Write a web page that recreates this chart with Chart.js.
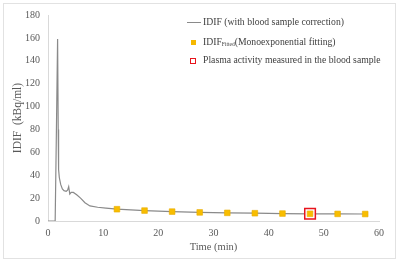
<!DOCTYPE html>
<html>
<head>
<meta charset="utf-8">
<script src="https://cdn.jsdelivr.net/npm/chart.js@4"></script>
<style>
  html, body { margin: 0; padding: 0; background: #fff; }
  #wrap { position: relative; width: 400px; height: 263px; }
  #frame { position: absolute; left: 3px; top: 3px; width: 391px; height: 254px; border: 1px solid #e2e2e2; }
  #myChart { position: absolute; left: 0; top: 0; }
  .leg { position: absolute; left: 203px; font-family: 'Liberation Serif', serif; font-size: 9.7px; color: #404040; white-space: nowrap; line-height: 12px; }
  .leg sub { font-size: 5.5px; vertical-align: -1px; }
  .sym { position: absolute; }
</style>
</head>
<body>
<div id="wrap">
  <div id="frame"></div>
  <canvas id="myChart" width="400" height="263"></canvas>
  <div class="sym" style="left:187px; top:22px; width:14px; height:1px; background:#8a8a8a;"></div>
  <div class="leg" style="top:16px;">IDIF (with blood sample correction)</div>
  <div class="sym" style="left:191px; top:40px; width:5px; height:5px; background:#f5b800;"></div>
  <div class="leg" style="top:36px;">IDIF<sub>Fitted</sub>(Monoexponential fitting)</div>
  <div class="sym" style="left:190px; top:58px; width:4px; height:4px; background:#fff; border:1.4px solid #e8141c;"></div>
  <div class="leg" style="top:54px;">Plasma activity measured in the blood sample</div>
</div>
<script>
// Curva IDIF (tempo em min, atividade em kBq/ml)
const idifTempo = [0, 1.3, 1.5, 1.74, 1.85, 1.92, 2.05, 2.3, 2.6, 2.9, 3.3, 3.55, 3.75, 3.95, 4.2, 4.6, 5.2, 5.9, 6.7, 7.6, 9, 10.5, 12.5, 17.5, 22.5, 27.5, 32.5, 37.5, 42.5, 47.5, 52.5, 57.5, 58];
const idifValor = [0, 0, 70, 159, 80, 45, 38, 32, 28, 26.5, 26, 27, 30, 23.5, 25, 25, 23, 20, 16, 13.2, 12, 11.2, 10.3, 9.1, 8.2, 7.5, 7.1, 6.8, 6.5, 6.3, 6.2, 6.1, 6.1];

// IDIF ajustado (monoexponencial)
const fitTempo = [12.5, 17.5, 22.5, 27.5, 32.5, 37.5, 42.5, 47.5, 52.5, 57.5];
const fitValor = [10.3, 9.1, 8.2, 7.5, 7.1, 6.8, 6.5, 6.3, 6.2, 6.1];

// Amostra de sangue
const amostraTempo = [47.5];
const amostraValor = [6.3];

const xTicks = [0, 10, 20, 30, 40, 50, 60];
const yTicks = [0, 20, 40, 60, 80, 100, 120, 140, 160, 180];

const pontos = (xs, ys) => xs.map((x, i) => ({ x: x, y: ys[i] }));

const fonteEixo = { family: 'Liberation Serif', size: 10, weight: 400 };

const ctx = document.getElementById('myChart');
new Chart(ctx, {
    type: 'scatter',
    data: {
        datasets: [
            {
                label: 'IDIF (with blood sample correction)',
                data: pontos(idifTempo, idifValor),
                showLine: true,
                borderColor: '#8a8a8a',
                borderWidth: 1.2,
                pointRadius: 0,
                tension: 0,
                order: 3
            },
            {
                label: 'Plasma activity measured in the blood sample',
                data: pontos(amostraTempo, amostraValor),
                pointStyle: 'rect',
                pointRadius: 7.5,
                backgroundColor: '#fff',
                borderColor: '#e8141c',
                borderWidth: 1.5,
                order: 2
            },
            {
                label: 'IDIF Fitted (Monoexponential fitting)',
                data: pontos(fitTempo, fitValor),
                pointStyle: 'rect',
                pointRadius: 4,
                backgroundColor: '#f8bd00',
                borderColor: '#e8ad00',
                borderWidth: 0.6,
                order: 1
            }
        ]
    },
    options: {
        responsive: false,
        animation: false,
        layout: { padding: { top: 15, right: 21, bottom: 0, left: 0 } },
        scales: {
            x: {
                type: 'linear',
                min: 0,
                max: 60,
                afterFit: s => { s.height = 42; },
                afterBuildTicks: s => { s.ticks = xTicks.map(v => ({ value: v })); },
                grid: { display: false, drawTicks: false },
                border: { display: true, color: '#d9d9d9', width: 1 },
                ticks: { padding: 6, color: '#595959', font: fonteEixo },
                title: { display: true, text: 'Time (min)', color: '#595959', padding: { top: 0, bottom: 9 }, font: { family: 'Liberation Serif', size: 10.5, weight: 400 } }
            },
            y: {
                min: 0,
                max: 180,
                afterFit: s => { s.width = 48; },
                afterBuildTicks: s => { s.ticks = yTicks.map(v => ({ value: v })); },
                grid: { display: false, drawTicks: false },
                border: { display: true, color: '#d9d9d9', width: 1 },
                ticks: { padding: 8, color: '#595959', font: fonteEixo },
                title: { display: true, text: 'IDIF  (kBq/ml)', color: '#595959', padding: { top: 11, bottom: 0 }, font: { family: 'Liberation Serif', size: 11.5, weight: 400 } }
            }
        },
        plugins: {
            legend: { display: false },
            tooltip: { enabled: false }
        }
    }
});
</script>
</body>
</html>
